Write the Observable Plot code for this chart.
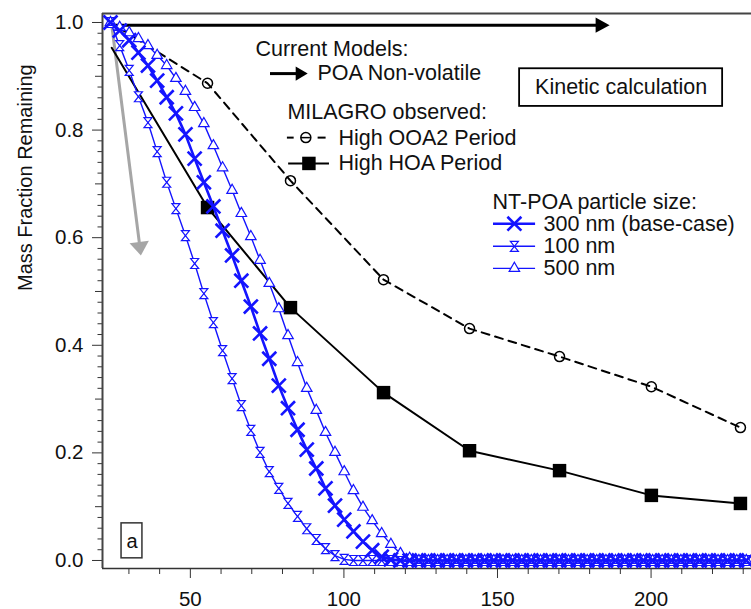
<!DOCTYPE html>
<html><head><meta charset="utf-8">
<script src="https://cdn.jsdelivr.net/npm/d3@7"></script>
<script src="https://cdn.jsdelivr.net/npm/@observablehq/plot@0.6"></script>
<style>body{margin:0;background:#fff;} #chart svg{display:block;}</style>
</head><body><div id="chart"></div>
<script>
// ---- data ----
const modelX = [24.0, 27.0, 30.1, 33.1, 36.2, 39.2, 42.3, 45.3, 48.4, 51.4,
  54.4, 57.5, 60.5, 63.6, 66.6, 69.7, 72.7, 75.7, 78.8, 81.8,
  84.9, 87.9, 91.0, 94.0, 97.1, 100.1, 103.1, 106.2, 109.2, 112.3,
  115.3, 118.4, 121.4, 124.4, 127.5, 130.5, 133.6, 136.6, 139.7, 142.7,
  145.8, 148.8, 151.8, 154.9, 157.9, 161.0, 164.0, 167.1, 170.1, 173.1,
  176.2, 179.2, 182.3, 185.3, 188.4, 191.4, 194.5, 197.5, 200.5, 203.6,
  206.6, 209.7, 212.7, 215.8, 218.8, 221.8, 224.9, 227.9, 231.0];
const nm100 = [1.000, 0.957, 0.911, 0.862, 0.814, 0.760, 0.703, 0.654, 0.604, 0.552,
  0.496, 0.442, 0.390, 0.338, 0.288, 0.242, 0.201, 0.165, 0.134, 0.106,
  0.082, 0.059, 0.039, 0.022, 0.009, 0.002, 0, 0, 0, 0,
  0, 0, 0, 0, 0, 0, 0, 0, 0, 0,
  0, 0, 0, 0, 0, 0, 0, 0, 0, 0,
  0, 0, 0, 0, 0, 0, 0, 0, 0, 0,
  0, 0, 0, 0, 0, 0, 0, 0, 0];
const nm300 = [1.000, 0.985, 0.967, 0.944, 0.920, 0.892, 0.861, 0.831, 0.792, 0.747,
  0.703, 0.658, 0.613, 0.567, 0.520, 0.472, 0.422, 0.375, 0.325, 0.283,
  0.243, 0.206, 0.171, 0.134, 0.102, 0.076, 0.054, 0.035, 0.019, 0.007,
  0.002, 0, 0, 0, 0, 0, 0, 0, 0, 0,
  0, 0, 0, 0, 0, 0, 0, 0, 0, 0,
  0, 0, 0, 0, 0, 0, 0, 0, 0, 0,
  0, 0, 0, 0, 0, 0, 0, 0, 0];
const nm500 = [1.000, 0.991, 0.981, 0.970, 0.957, 0.939, 0.920, 0.896, 0.872, 0.842,
  0.812, 0.771, 0.730, 0.688, 0.645, 0.602, 0.558, 0.515, 0.468, 0.418,
  0.368, 0.320, 0.279, 0.238, 0.201, 0.165, 0.130, 0.099, 0.074, 0.050,
  0.030, 0.013, 0.004, 0, 0, 0, 0, 0, 0, 0,
  0, 0, 0, 0, 0, 0, 0, 0, 0, 0,
  0, 0, 0, 0, 0, 0, 0, 0, 0, 0,
  0, 0, 0, 0, 0, 0, 0, 0, 0];
const ooaX = [24, 55.6, 82.6, 112.9, 140.9, 170.2, 200.1, 229.1];
const ooaY = [1.0, 0.887, 0.706, 0.522, 0.431, 0.379, 0.323, 0.247];
const hoaX = [24.4, 55.6, 82.6, 112.9, 140.9, 170.2, 200.1, 229.1];
const hoaY = [0.953, 0.656, 0.470, 0.312, 0.204, 0.167, 0.121, 0.106];
// "Current models" arrow (start, shaft end, tip) and grey arrow
const poaX = [24.5, 182.6, 186.5];
const poaY = [0.995, 0.995, 0.995];
const greyX = [24.3, 33.5, 33.9];
const greyY = [1.0, 0.586, 0.567];
const xTicks = [50, 100, 150, 200];
const xMinor = [30, 40, 60, 70, 80, 90, 110, 120, 130, 140, 160, 170, 180, 190, 210, 220, 230];
const yTicks = [0, 0.2, 0.4, 0.6, 0.8, 1.0];
const yMid = [0.1, 0.3, 0.5, 0.7, 0.9];
const yMinor = d3.range(0, 51).map(i => i / 50).filter(v => Math.round(v * 100) % 10 !== 0);

// ---- tables ----
const model = modelX.map((x, i) => ({x, a: nm100[i], b: nm300[i], c: nm500[i]}));
const ooa = ooaX.map((x, i) => ({x, y: ooaY[i]}));
const hoa = hoaX.map((x, i) => ({x, y: hoaY[i]}));
const poa = poaX.map((x, i) => ({x, y: poaY[i]}));
const grey = greyX.map((x, i) => ({x, y: greyY[i]}));

const xDom = [21.4, 232.7], yDom = [-0.0149, 1.0167];
const F = "'Liberation Sans', Arial, sans-serif";
const blue = "#1414ff";
const hourglass = {draw(ctx, size) {
  const s = Math.sqrt(size / Math.PI), w = 0.8 * s, h = s;
  ctx.moveTo(-w, -h); ctx.lineTo(w, -h); ctx.lineTo(-w, h); ctx.lineTo(w, h); ctx.closePath();
}};
const head = (ratio) => ({draw(ctx, size) {
  const s = Math.sqrt(size / Math.PI);
  ctx.moveTo(0, 0); ctx.lineTo(ratio * s, s); ctx.lineTo(-ratio * s, s); ctx.closePath();
}});
const FS = 21.5;
const T = (txt, x, y, o = {}) => Plot.text([txt], {x, y, text: d => d, textAnchor: "start", fontSize: FS, fill: "#111", ...o});

const chart = Plot.plot({
  width: 751, height: 609,
  marginLeft: 102, marginRight: 0, marginTop: 13, marginBottom: 41,
  x: {domain: xDom, label: null},
  y: {domain: yDom, label: null},
  style: {fontFamily: F, background: "white", color: "#111", overflow: "visible"},
  marks: [
    // axes
    Plot.axisX({ticks: xTicks, tickSize: 10, tickPadding: 13, fontSize: 20.5, label: null, stroke: "#333", fill: "#111"}),
    Plot.axisX({ticks: xMinor, tickSize: 6, fill: "none", label: null, stroke: "#333"}),
    Plot.axisY({ticks: yTicks, tickSize: 10, tickPadding: 9, tickFormat: d3.format(".1f"), fontSize: 20.5, label: null, stroke: "#333", fill: "#111"}),
    Plot.axisY({ticks: yMid, tickSize: 7, fill: "none", label: null, stroke: "#333"}),
    Plot.axisY({ticks: yMinor, tickSize: 4.5, fill: "none", label: null, stroke: "#333"}),
    Plot.ruleX([xDom[0]], {x: d => d, stroke: "#444", strokeWidth: 2}),
    Plot.ruleY([yDom[1]], {y: d => d, stroke: "#444", strokeWidth: 2}),
    Plot.ruleY([yDom[0]], {y: d => d, stroke: "#333", strokeWidth: 1.5}),
    Plot.text(["Mass Fraction Remaining"], {frameAnchor: "left", dx: -77, rotate: -90, fontSize: 20, fill: "#111"}),

    // grey arrow
    Plot.line(grey.slice(0, 2), {x: "x", y: "y", stroke: "#a6a6a6", strokeWidth: 3}),
    Plot.dot(grey.slice(2), {x: "x", y: "y", symbol: head(0.72), r: 13.5, rotate: 172.9, fill: "#a6a6a6", stroke: "none"}),

    // current models arrow
    Plot.line(poa.slice(0, 2), {x: "x", y: "y", stroke: "black", strokeWidth: 3}),
    Plot.dot(poa.slice(2), {x: "x", y: "y", symbol: head(0.55), r: 14, rotate: 90, fill: "black", stroke: "none"}),

    // observations
    Plot.line(ooa, {x: "x", y: "y", stroke: "black", strokeWidth: 2, strokeDasharray: "8,6"}),
    Plot.dot(ooa.slice(1), {x: "x", y: "y", symbol: "circle", r: 5, fill: "none", stroke: "black", strokeWidth: 1.5}),
    Plot.line(hoa, {x: "x", y: "y", stroke: "black", strokeWidth: 2}),
    Plot.dot(hoa.slice(1), {x: "x", y: "y", symbol: "square", r: 7.6, fill: "black", stroke: "none"}),

    // model curves
    Plot.line(model, {x: "x", y: "a", stroke: blue, strokeWidth: 1.4}),
    Plot.dot(model, {x: "x", y: "a", symbol: hourglass, r: 5, fill: "white", stroke: blue, strokeWidth: 1.2}),
    Plot.line(model, {x: "x", y: "c", stroke: blue, strokeWidth: 1.4}),
    Plot.dot(model, {x: "x", y: "c", symbol: "triangle", r: 3.9, fill: "white", stroke: blue, strokeWidth: 1.2}),
    Plot.line(model, {x: "x", y: "b", stroke: blue, strokeWidth: 2.6}),
    Plot.dot(model, {x: "x", y: "b", symbol: "times", r: 6.4, stroke: blue, strokeWidth: 2.6}),

    // legend: current models
    T("Current Models:", 71.2, 0.950),
    Plot.ruleY([0.905], {y: d => d, x1: 76.1, x2: 84.6, stroke: "black", strokeWidth: 3}),
    Plot.dot([0], {x: 88.2, y: 0.905, symbol: head(0.6), r: 12, rotate: 90, fill: "black", stroke: "none"}),
    T("POA Non-volatile", 91.4, 0.905),
    // legend: observations
    T("MILAGRO observed:", 81.6, 0.833),
    Plot.ruleY([0.786], {y: d => d, x1: 81.6, x2: 83.8, stroke: "black", strokeWidth: 2}),
    Plot.ruleY([0.786], {y: d => d, x1: 91.6, x2: 94.2, stroke: "black", strokeWidth: 2}),
    Plot.ruleY([0.786], {y: d => d, x1: 86.1, x2: 89.1, stroke: "black", strokeWidth: 1.5}),
    Plot.dot([0], {x: 87.6, y: 0.786, symbol: "circle", r: 5, fill: "none", stroke: "black", strokeWidth: 1.5}),
    T("High OOA2 Period", 98.2, 0.786),
    Plot.ruleY([0.738], {y: d => d, x1: 82.0, x2: 95.3, stroke: "black", strokeWidth: 2}),
    Plot.dot([0], {x: 88.6, y: 0.738, symbol: "square", r: 7.6, fill: "black", stroke: "none"}),
    T("High HOA Period", 98.2, 0.738),
    // legend: particle sizes
    T("NT-POA particle size:", 148.4, 0.667),
    Plot.ruleY([0.626], {y: d => d, x1: 148.7, x2: 162.4, stroke: blue, strokeWidth: 2.6}),
    Plot.dot([0], {x: 155.5, y: 0.626, symbol: "times", r: 6.4, stroke: blue, strokeWidth: 2.6}),
    T("300 nm (base-case)", 165.0, 0.626),
    Plot.ruleY([0.584], {y: d => d, x1: 148.7, x2: 162.4, stroke: blue, strokeWidth: 1.4}),
    Plot.dot([0], {x: 155.5, y: 0.584, symbol: hourglass, r: 5, fill: "white", stroke: blue, strokeWidth: 1.2}),
    T("100 nm", 165.0, 0.584),
    Plot.ruleY([0.543], {y: d => d, x1: 148.7, x2: 162.4, stroke: blue, strokeWidth: 1.4}),
    Plot.dot([0], {x: 155.5, y: 0.543, symbol: "triangle", r: 3.9, fill: "white", stroke: blue, strokeWidth: 1.2}),
    T("500 nm", 165.0, 0.543),

    // boxes
    Plot.rect([0], {x1: 157.2, x2: 223.3, y1: 0.844, y2: 0.914, fill: "white", stroke: "black", strokeWidth: 1.8}),
    T("Kinetic calculation", 190.25, 0.879, {textAnchor: "middle"}),
    Plot.rect([0], {x1: 27.6, x2: 34.4, y1: 0.004, y2: 0.069, fill: "white", stroke: "#333", strokeWidth: 1.5}),
    T("a", 31.0, 0.036, {textAnchor: "middle", fontSize: 20})
  ]
});
document.getElementById("chart").append(chart);
</script>
</body></html>
